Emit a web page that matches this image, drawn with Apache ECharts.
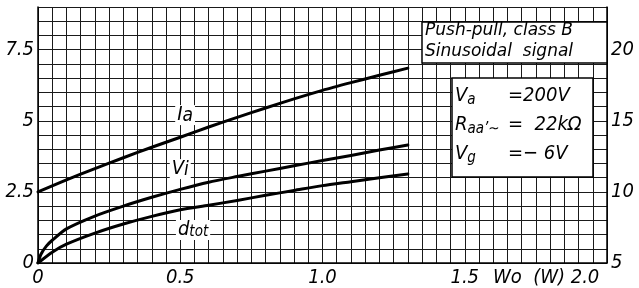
<!DOCTYPE html>
<html><head><meta charset="utf-8">
<script src="https://cdn.jsdelivr.net/npm/echarts@6/dist/echarts.min.js"></script>
<style>html,body{margin:0;padding:0;background:#fff}#c{width:639px;height:288px}</style>
</head><body><div id="c"></div>
<script>
// ---- data ----
const xTicks = [0, 0.5, 1.0, 1.5, 2.0];
const xTickLabels = ['0', '0.5', '1.0', '1.5', '2.0'];
const leftTicks = [0, 2.5, 5, 7.5];
const leftTickLabels = ['0', '2.5', '5', '7.5'];
const rightTicks = [5, 10, 15, 20];
const rightTickLabels = ['5', '10', '15', '20'];

const iaX = [0, 0.1, 0.2, 0.3, 0.4, 0.5, 0.6, 0.7, 0.8, 0.9, 1.0, 1.1, 1.2, 1.3];
const iaY = [2.5, 2.92, 3.32, 3.7, 4.07, 4.42, 4.78, 5.12, 5.45, 5.77, 6.07, 6.34, 6.6, 6.85];

const viX = [0, 0.01, 0.03, 0.05, 0.1, 0.2, 0.3, 0.4, 0.5, 0.6, 0.7, 0.8, 0.9, 1.0, 1.1, 1.2, 1.3];
const viY = [0, 0.3, 0.6, 0.8, 1.2, 1.65, 2.0, 2.31, 2.59, 2.84, 3.04, 3.23, 3.42, 3.6, 3.78, 3.97, 4.15];

const dX = [0, 0.05, 0.1, 0.2, 0.3, 0.4, 0.5, 0.6, 0.7, 0.8, 0.9, 1.0, 1.1, 1.2, 1.3];
const dY = [0, 0.38, 0.66, 1.05, 1.37, 1.64, 1.87, 2.03, 2.2, 2.38, 2.55, 2.72, 2.86, 3.0, 3.13];

// curve label anchors (data space)
const curveLabels = [
  {text: 'I{s|a}', x: 0.517, y: 5.2},
  {text: 'V{s|i}', x: 0.5, y: 3.3},
  {text: 'd{t|tot}', x: 0.545, y: 1.16}
];

const zip = (xs, ys) => xs.map((x, i) => [x, ys[i]]);
const FONT = 'DejaVu Sans Condensed';
const chart = echarts.init(document.getElementById('c'), null, {renderer: 'canvas'});
const gridLine = {show: true, lineStyle: {color: '#1a1a1a', width: 1}};
const curve = (name, d) => ({
  name, type: 'line', data: d, symbol: 'none', smooth: 0.25,
  lineStyle: {color: '#000', width: 3, cap: 'round', join: 'round'}, z: 5, animation: false
});

chart.setOption({
  animation: false,
  backgroundColor: '#fff',
  grid: {left: 38, right: 32, top: 7, bottom: 24},
  xAxis: {
    type: 'value', min: 0, max: 2, interval: 0.05,
    axisLine: {show: true, lineStyle: {color: '#000', width: 1.5}},
    axisTick: {show: false},
    splitLine: gridLine,
    axisLabel: {
      customValues: xTicks, margin: 5, color: '#000',
      fontFamily: FONT, fontStyle: 'italic', fontSize: 20,
      formatter: (v) => {
        const i = xTicks.findIndex(t => Math.abs(t - v) < 1e-6);
        if (i < 0) return '';
        return i === xTicks.length - 1 ? '{r|' + xTickLabels[i] + '}' : xTickLabels[i];
      },
      rich: {r: {fontFamily: FONT, fontStyle: 'italic', fontSize: 20, color: '#000', padding: [0, 44, 0, 0]}}
    }
  },
  yAxis: [{
    type: 'value', min: 0, max: 9, interval: 0.5,
    axisLine: {show: true, lineStyle: {color: '#000', width: 1.5}},
    axisTick: {show: false},
    splitLine: gridLine,
    axisLabel: {
      customValues: leftTicks, margin: 4, color: '#000',
      fontFamily: FONT, fontStyle: 'italic', fontSize: 20,
      formatter: (v) => {
        const i = leftTicks.findIndex(t => Math.abs(t - v) < 1e-6);
        return i < 0 ? '' : leftTickLabels[i];
      }
    }
  }, {
    type: 'value', min: 5, max: 23, interval: 5, position: 'right', alignTicks: false,
    axisLine: {show: true, lineStyle: {color: '#000', width: 1.5}},
    axisTick: {show: false},
    splitLine: {show: false},
    axisLabel: {
      customValues: rightTicks, margin: 4, color: '#000',
      fontFamily: FONT, fontStyle: 'italic', fontSize: 20,
      formatter: (v) => {
        const i = rightTicks.findIndex(t => Math.abs(t - v) < 1e-6);
        return i < 0 ? '' : rightTickLabels[i];
      }
    }
  }],
  series: [curve('Ia', zip(iaX, iaY)), curve('Vi', zip(viX, viY)), curve('dtot', zip(dX, dY))]
});

// annotations
const g = [];
const toPx = (x, y) => chart.convertToPixel({gridIndex: 0}, [x, y]);
const labelRich = {
  s: {fontFamily: FONT, fontStyle: 'italic', fontSize: 19, color: '#000', verticalAlign: 'bottom'},
  t: {fontFamily: FONT, fontStyle: 'italic', fontSize: 15, color: '#000', padding: [4, 0, 0, 0]}
};
curveLabels.forEach(l => {
  const p = toPx(l.x, l.y);
  g.push({type: 'text', x: p[0], y: p[1], z: 20, style: {
    text: l.text, fill: '#000', font: 'italic 20px "' + FONT + '"',
    align: 'center', verticalAlign: 'middle', backgroundColor: '#fff', padding: [0, 2], rich: labelRich
  }});
});

const BF = 'italic 17px "DejaVu Sans"';
g.push({type: 'rect', z: 20, shape: {x: 422, y: 22, width: 185, height: 41}, style: {fill: '#fff', stroke: '#000', lineWidth: 1.5}});
g.push({type: 'text', z: 21, x: 425, y: 31, style: {text: 'Push-pull, class B', font: BF, fill: '#000', verticalAlign: 'middle'}});
g.push({type: 'text', z: 21, x: 425, y: 52, style: {text: 'Sinusoidal  signal', font: BF, fill: '#000', verticalAlign: 'middle'}});

g.push({type: 'rect', z: 20, shape: {x: 452, y: 78, width: 141, height: 99}, style: {fill: '#fff', stroke: '#000', lineWidth: 1.5}});
const PF = 'italic 20px "' + FONT + '"';
const prich = {sub: {fontFamily: FONT, fontStyle: 'italic', fontSize: 15, color: '#000', padding: [8, 0, 0, 0]}};
const params = [
  {a: 'V{sub|a}', b: '=200V', y: 96},
  {a: 'R{sub|aa\u2019\u223C}', b: '=  22k\u03A9', y: 125},
  {a: 'V{sub|g}', b: '=\u2212 6V', y: 154}
];
params.forEach(p => {
  g.push({type: 'text', z: 21, x: 455, y: p.y, style: {text: p.a, font: PF, fill: '#000', verticalAlign: 'middle', rich: prich}});
  g.push({type: 'text', z: 21, x: 508, y: p.y, style: {text: p.b, font: PF, fill: '#000', verticalAlign: 'middle'}});
});
g.push({type: 'text', z: 21, x: 493, y: 278, style: {text: 'Wo  (W)', font: PF, fill: '#000', verticalAlign: 'middle'}});

chart.setOption({graphic: g});
</script></body></html>
